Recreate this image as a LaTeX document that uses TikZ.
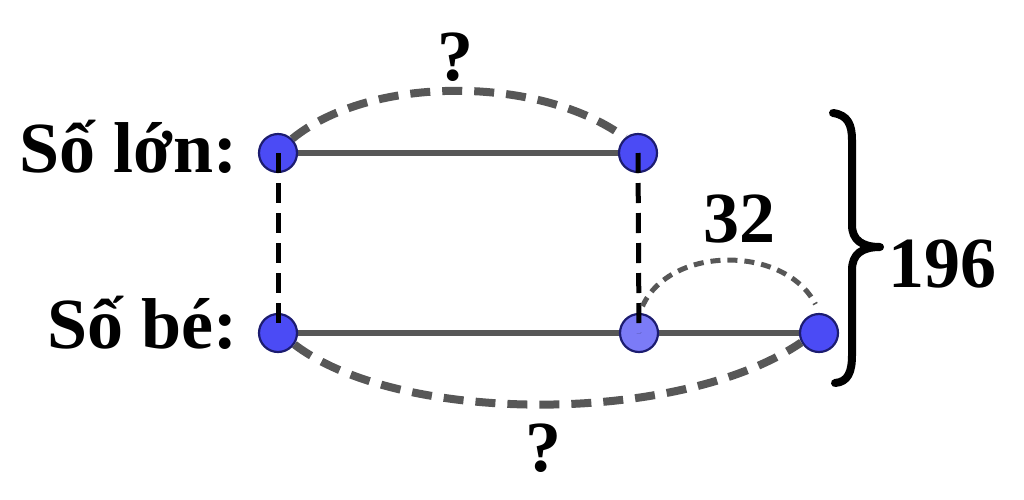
\documentclass[tikz,border=0pt]{standalone}
\usepackage{fontspec}
\setmainfont{Liberation Serif}
\usetikzlibrary{backgrounds}
\definecolor{dotblue}{HTML}{4B4BF5}
\definecolor{dotlight}{HTML}{7B7BF7}
\definecolor{dotedge}{HTML}{1C1C70}
\definecolor{linegray}{HTML}{575757}
\tikzset{
  dot/.style={circle, minimum size=38pt, inner sep=0pt, fill=dotblue, draw=dotedge, line width=2.2pt},
  dotl/.style={dot, fill=dotlight},
  lbl/.style={font=\fontsize{72}{76}\selectfont\bfseries, inner sep=0pt},
  solidline/.style={draw=linegray, line width=6pt},
  vdash/.style={draw=black, line width=5pt, dash pattern=on 20pt off 10pt},
  bigarc/.style={draw=linegray, line width=8pt, dash pattern=on 20pt off 12pt},
  smallarc/.style={draw=linegray, line width=5pt, dash pattern=on 10pt off 7pt},
  bracestyle/.style={draw=black, line width=8pt, line cap=round, line join=round}
}
\begin{document}
\begin{tikzpicture}[x=1pt, y=-1pt]
\useasboundingbox (0,0) rectangle (1024,499);
% dots
\node[dot]  (tl) at (278,153) {};
\node[dot]  (tr) at (638,153) {};
\node[dot]  (bl) at (278,333) {};
\node[dotl] (bm) at (639,333) {};
\node[dot]  (br) at (819,333) {};
\begin{scope}[on background layer]
  \draw[solidline] (tl.center) -- (tr.center);
  \draw[solidline] (bl.center) -- (br.center);
\end{scope}
% vertical dashed
\draw[vdash] (tl.center) -- (bl.center);
\draw[vdash] (tr.center) -- (bm.center);
% arcs
\draw[bigarc] (tl.45) .. controls (370,75) and (540,75) .. (tr.130);
\draw[bigarc] (bl.-35) .. controls (400,425) and (680,425) .. (br.208);
\draw[smallarc] ([yshift=7pt]bm.80) .. controls (670,245) and (785,245) .. ([yshift=9pt]br.100);
% brace
\coordinate (btop) at (833,113);
\coordinate (bbot) at (835,383);
\coordinate (btip) at (880,247);
\draw[bracestyle] (btop) .. controls (848,115) and (852,125) .. (852,140) -- (852,225)
  .. controls (852,240) and (862,247) .. (btip)
  .. controls (862,247) and (852,254) .. (852,270) -- (852,355)
  .. controls (852,372) and (848,382) .. (bbot);
% labels
\node[lbl, anchor=base east] (lbig) at (238,172) {Số lớn:};
\node[lbl, anchor=base east] (lsmall) at (238,348) {Số bé:};
\node[lbl, anchor=base] (q1) at (455,80) {?};
\node[lbl, anchor=base] (q2) at (543,471) {?};
\node[lbl, anchor=base] (n32) at (739,242) {32};
\node[lbl, anchor=base west] (n196) at (888,287) {196};
\end{tikzpicture}
\end{document}
